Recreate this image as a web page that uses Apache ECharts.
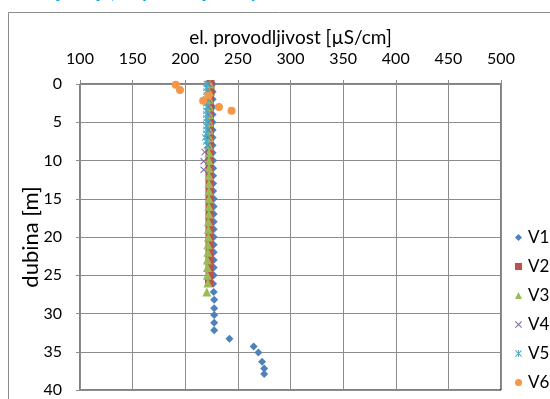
<!DOCTYPE html>
<html>
<head>
<meta charset="utf-8">
<script src="https://cdn.jsdelivr.net/npm/echarts@6/dist/echarts.min.js"></script>
<style>
  html, body { margin: 0; padding: 0; background: #fff; }
  #chart { width: 550px; height: 399px; }
</style>
</head>
<body>
<div id="chart"></div>
<script>
// depth [m] and conductivity [µS/cm] per well
const v1Depth = [0, 1, 2, 3, 4, 5, 6, 7, 8, 9, 10, 11, 12, 13, 14, 15, 16, 17, 18, 19, 20, 21, 22, 23, 24, 25,
  26.1, 27.2, 28.2, 29.3, 30.2, 31.2, 32.2, 33.3, 34.3, 35.1, 36.3, 37.2, 37.9];
const v1Val = [226, 226, 226, 226, 226, 226, 226, 226, 226, 226, 226.5, 226.5, 226.5, 226.5, 226.5, 227, 227, 227, 227, 227, 227, 227, 227, 227, 227, 227,
  226.5, 227, 227.5, 227.5, 227.5, 227.5, 227.5, 242, 265, 269.5, 273, 275, 275];

const v2Depth = [0, 1, 2, 3, 4, 5, 6, 7, 8, 9, 10, 11, 12, 13, 14, 15, 16, 17, 18, 19, 20, 21, 22, 23, 24, 25, 26];
const v2Val = [224, 224, 223.5, 223.5, 223.5, 223.5, 223.5, 223.5, 223.5, 223, 223, 223, 223, 223, 223, 223, 223, 223, 223, 223, 223, 223, 223, 223, 223, 223, 222.5];

const v3Depth = [0, 1, 2, 3, 4, 5, 6, 7, 8, 9, 10, 11, 12, 13, 14, 15, 16, 17, 18, 19, 20, 21, 22, 23, 24, 25, 26, 27.2];
const v3Val = [223.5, 223, 223, 223, 223, 223, 223, 223, 222.5, 222.5, 222.5, 222.5, 222.5, 222.5, 222.5, 222.5, 222.5, 222.5, 222, 222, 222, 221.5, 221.5, 221, 221, 221, 221.5, 220.5];

const v4Depth = [0, 1, 2, 3, 4, 5, 6, 7, 8, 8.9, 10.1, 11.2];
const v4Val = [222, 222, 222, 222, 222, 222, 222, 222, 221.5, 218.5, 217.5, 217.5];

const v5Depth = [0, 0.5, 1, 1.5, 2, 2.5, 3, 3.5, 4, 4.5, 5, 5.5, 6, 6.5, 7, 7.5, 8];
const v5Val = [220.5, 220, 220, 220.5, 220, 220, 220.5, 220, 220, 220, 220.5, 220, 220, 220, 219, 220, 220.5];

const v6Depth = [0.1, 0.8, 1.5, 2.2, 3.0, 3.5];
const v6Val = [191, 195, 222, 217, 232, 244];

const xTicks = { min: 100, max: 500, step: 50 };
const yTicks = { min: 0, max: 40, step: 5 };

const crossPath = 'path://M0,1 L1,0 L5,4 L9,0 L10,1 L6,5 L10,9 L9,10 L5,6 L1,10 L0,9 L4,5 Z';
const starPath = 'path://M0,1 L1,0 L5,4 L9,0 L10,1 L6,5 L10,9 L9,10 L5,6 L1,10 L0,9 L4,5 Z M4.3,0 L5.7,0 L5.7,10 L4.3,10 Z';

const pairs = (xs, ys) => xs.map((x, i) => [x, ys[i]]);
const font = 'Lato, "Liberation Sans", sans-serif';
const gridGray = '#8c8c8c';

const series = [
  { name: 'V1', data: pairs(v1Val, v1Depth), symbol: 'diamond', symbolSize: 8, color: '#4F81BD' },
  { name: 'V2', data: pairs(v2Val, v2Depth), symbol: 'rect', symbolSize: 8, color: '#C0504D' },
  { name: 'V3', data: pairs(v3Val, v3Depth), symbol: 'triangle', symbolSize: 9, color: '#9BBB59' },
  { name: 'V4', data: pairs(v4Val, v4Depth), symbol: crossPath, symbolSize: 7, color: '#8064A2' },
  { name: 'V5', data: pairs(v5Val, v5Depth), symbol: starPath, symbolSize: 7, color: '#4BACC6' },
  { name: 'V6', data: pairs(v6Val, v6Depth), symbol: 'circle', symbolSize: 8, color: '#F79646' },
].map((s) => ({
  name: s.name,
  type: 'scatter',
  data: s.data,
  symbol: s.symbol,
  symbolSize: s.symbolSize,
  itemStyle: { color: s.color, opacity: 1 },
}));

const chart = echarts.init(document.getElementById('chart'), null, { renderer: 'canvas' });
chart.setOption({
  animation: false,
  backgroundColor: '#fff',
  textStyle: { fontFamily: font, color: '#000' },
  graphic: [
    {
      type: 'rect',
      shape: { x: 8.5, y: 12.5, width: 560, height: 400 },
      style: { fill: 'none', stroke: '#8c8c8c', lineWidth: 1 },
      silent: true,
      z: -1,
    },
    {
      type: 'text',
      left: 40,
      top: -17,
      style: { text: 'Mjerenja, el. provodljivost po dubini', fill: '#00A2E8', font: 'bold 18px ' + font },
      silent: true,
    },
  ],
  grid: {
    left: 80, top: 84, width: 421, height: 306,
    show: true, borderColor: '#000', borderWidth: 1, backgroundColor: 'transparent',
  },
  legend: {
    orient: 'vertical',
    left: 515,
    top: 229,
    height: 170,
    padding: 0,
    itemWidth: 7,
    itemHeight: 7,
    itemGap: 12,
    textStyle: { fontSize: 17, fontFamily: font, color: '#000', padding: [0, 0, 0, 1] },
    data: series.map((s) => ({ name: s.name, icon: s.symbol })),
  },
  xAxis: {
    type: 'value',
    position: 'top',
    min: xTicks.min, max: xTicks.max, interval: xTicks.step,
    name: 'el. provodljivost [µS/cm]',
    nameLocation: 'middle',
    nameGap: 37,
    nameMoveOverlap: false,
    nameTextStyle: { fontSize: 19, color: '#000', fontFamily: font },
    axisLine: { show: true, onZero: false, lineStyle: { color: gridGray } },
    axisTick: { show: true, inside: false, length: 4, lineStyle: { color: gridGray } },
    axisLabel: { fontSize: 16, color: '#000', margin: 17, fontFamily: font },
    splitLine: { show: true, lineStyle: { color: gridGray, width: 1 } },
  },
  yAxis: {
    type: 'value',
    inverse: true,
    min: yTicks.min, max: yTicks.max, interval: yTicks.step,
    name: 'dubina [m]',
    nameLocation: 'middle',
    nameGap: 38,
    nameMoveOverlap: false,
    nameTextStyle: { fontSize: 22, color: '#000', fontFamily: font },
    axisLine: { show: true, onZero: false, lineStyle: { color: gridGray } },
    axisTick: { show: true, inside: false, length: 4, lineStyle: { color: gridGray } },
    axisLabel: { fontSize: 16, color: '#000', margin: 18, fontFamily: font },
    splitLine: { show: true, lineStyle: { color: gridGray, width: 1 } },
  },
  series,
});
</script>
</body>
</html>
